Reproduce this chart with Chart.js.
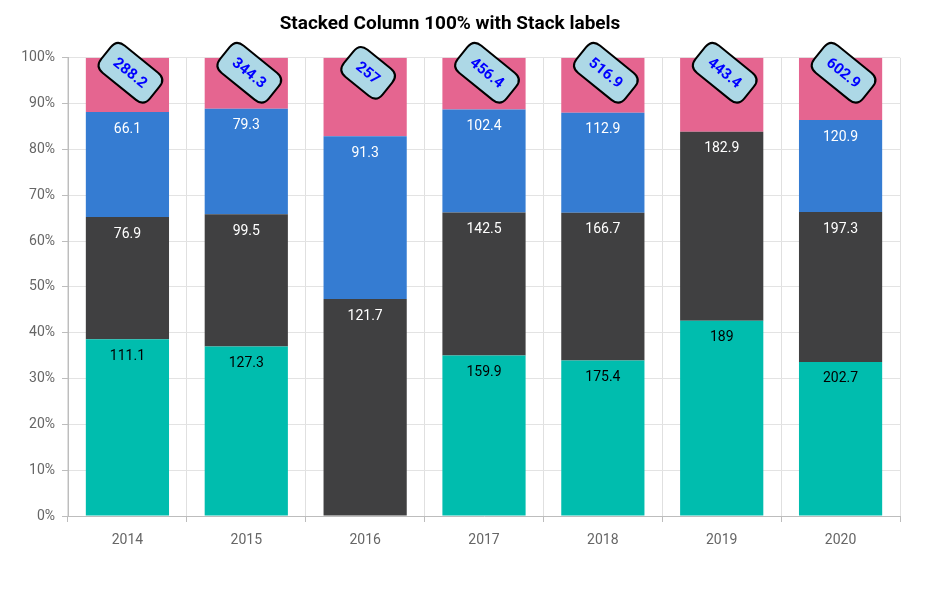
<!DOCTYPE html>
<html>
<head>
<meta charset="utf-8">
<script src="https://cdn.jsdelivr.net/npm/chart.js@4"></script>
<style>
html,body{margin:0;padding:0;background:#fff;}
#wrap{width:927px;height:597px;position:relative;}
</style>
</head>
<body>
<div id="wrap"><canvas id="c" width="927" height="597"></canvas></div>
<script>
const categories = ['2014','2015','2016','2017','2018','2019','2020'];
const seriesTeal = [111.1, 127.3, 0, 159.9, 175.4, 189, 202.7];
const seriesGray = [76.9, 99.5, 121.7, 142.5, 166.7, 182.9, 197.3];
const seriesBlue = [66.1, 79.3, 91.3, 102.4, 112.9, 0, 120.9];
const seriesPink = [34.1, 38.2, 44, 51.6, 61.9, 71.5, 82];
const yTicks = [0,10,20,30,40,50,60,70,80,90,100];

const raws = [seriesTeal, seriesGray, seriesBlue, seriesPink];
const totals = categories.map((_, j) => +(raws.reduce((s, r) => s + r[j], 0)).toFixed(1));
const pct = r => r.map((v, j) => v / totals[j] * 100);

function mk(label, raw, color, labelColor, showLabels) {
  return { label, raw, data: pct(raw), backgroundColor: color, borderWidth: 0,
    labelColor, showLabels, barPercentage: 0.7, categoryPercentage: 1 };
}

function roundRect(ctx, x, y, w, h, r) {
  ctx.beginPath();
  ctx.moveTo(x + r, y);
  ctx.lineTo(x + w - r, y);
  ctx.quadraticCurveTo(x + w, y, x + w, y + r);
  ctx.lineTo(x + w, y + h - r);
  ctx.quadraticCurveTo(x + w, y + h, x + w - r, y + h);
  ctx.lineTo(x + r, y + h);
  ctx.quadraticCurveTo(x, y + h, x, y + h - r);
  ctx.lineTo(x, y + r);
  ctx.quadraticCurveTo(x, y, x + r, y);
  ctx.closePath();
}

const labelPlugin = {
  id: 'barLabels',
  afterDatasetsDraw(chart) {
    const ctx = chart.ctx;
    ctx.save();
    ctx.font = '14px Roboto';
    ctx.textAlign = 'center';
    ctx.textBaseline = 'middle';
    chart.data.datasets.forEach((ds, i) => {
      if (!ds.showLabels) return;
      const meta = chart.getDatasetMeta(i);
      meta.data.forEach((bar, j) => {
        const v = ds.raw[j];
        if (!v) return;
        ctx.fillStyle = ds.labelColor;
        ctx.fillText(String(v), bar.x, bar.y + 17);
      });
    });
    // stack labels
    const yTop = chart.scales.y.getPixelForValue(100);
    const xs = chart.scales.x;
    ctx.font = 'bold 15px Roboto';
    totals.forEach((t, j) => {
      const cx = xs.getPixelForValue(j) + 3;
      const cy = yTop + 15;
      const txt = String(t);
      const tw = ctx.measureText(txt).width;
      const w = tw + 24, h = 35;
      ctx.save();
      ctx.translate(cx, cy);
      ctx.rotate(39 * Math.PI / 180);
      roundRect(ctx, -w / 2, -h / 2, w, h, 10);
      ctx.fillStyle = '#add8e6';
      ctx.fill();
      ctx.lineWidth = 2;
      ctx.strokeStyle = '#000';
      ctx.stroke();
      ctx.fillStyle = '#0000ff';
      ctx.fillText(txt, 0, 1);
      ctx.restore();
    });
    ctx.restore();
  }
};

new Chart(document.getElementById('c'), {
  type: 'bar',
  data: {
    labels: categories,
    datasets: [
      mk('Teal', seriesTeal, '#00bdae', '#000000', true),
      mk('Gray', seriesGray, '#404041', '#ffffff', true),
      mk('Blue', seriesBlue, '#357cd2', '#ffffff', true),
      mk('Pink', seriesPink, '#e56590', '#ffffff', false)
    ]
  },
  options: {
    responsive: false,
    animation: false,
    layout: { padding: { left: 0, right: 27, top: 0, bottom: 0 } },
    plugins: {
      legend: { display: false },
      tooltip: { enabled: false },
      title: {
        display: true,
        text: 'Stacked Column 100% with Stack labels',
        color: '#000',
        font: { family: 'Roboto', size: 19, weight: 'bold' },
        padding: { top: 13, bottom: 22 }
      }
    },
    scales: {
      x: {
        stacked: true,
        grid: { color: '#e0e0e0', offset: true, tickLength: 6, drawTicks: true, tickColor: '#bdbdbd' },
        border: { color: '#bdbdbd', width: 1 },
        ticks: { color: '#666', font: { family: 'Roboto', size: 14 }, padding: 10 },
        afterFit(s) { s.height = 81; }
      },
      y: {
        stacked: true,
        min: 0, max: 100,
        afterBuildTicks(s) { s.ticks = yTicks.map(v => ({ value: v })); },
        grid: { color: '#e3e3e3', tickLength: 6, tickColor: '#bdbdbd' },
        border: { color: '#bdbdbd', width: 1 },
        ticks: { color: '#666', font: { family: 'Roboto', size: 14 }, padding: 7, callback: v => v + '%' },
        afterFit(s) { s.width = 68; }
      }
    }
  },
  plugins: [labelPlugin]
});
</script>
</body>
</html>
